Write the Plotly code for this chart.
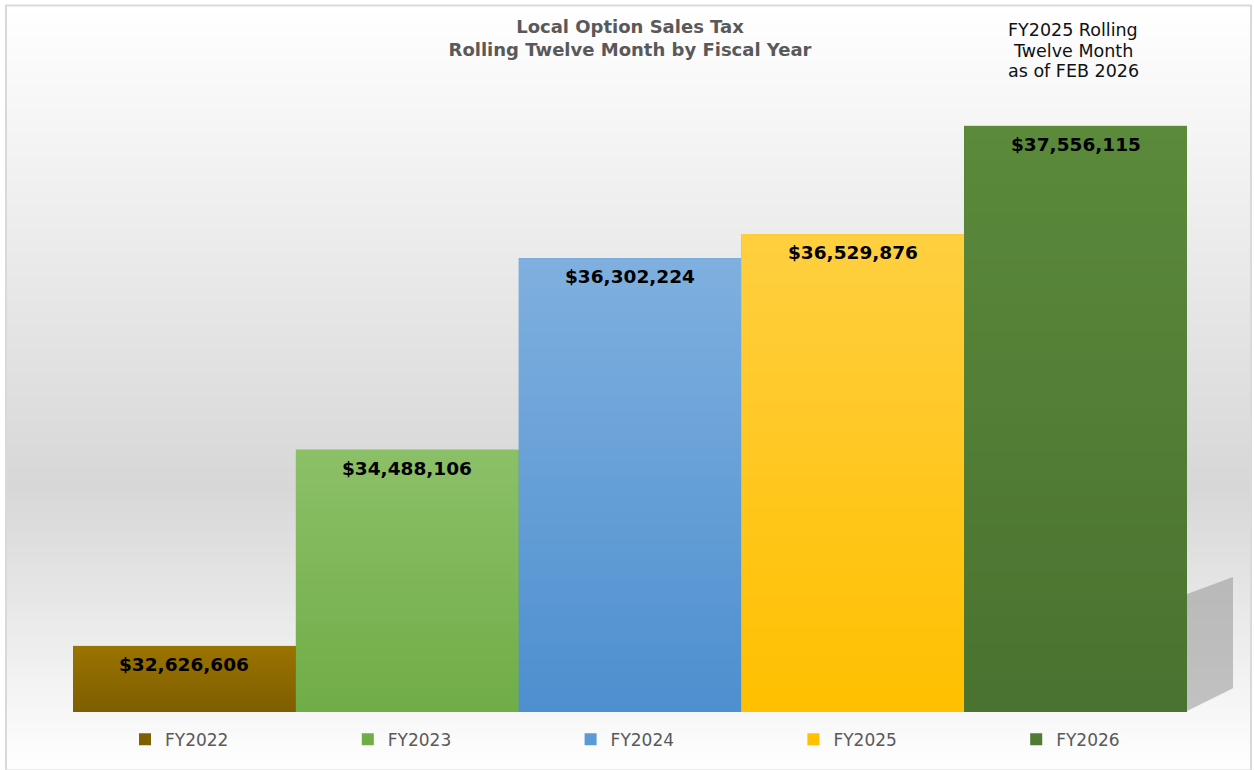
import base64
import struct
import zlib

import plotly.graph_objects as go

# ---------------- data ----------------
fiscal_years = ["FY2022", "FY2023", "FY2024", "FY2025", "FY2026"]
sales_tax = [32626606, 34488106, 36302224, 36529876, 37556115]
legend_colors = ["#7F6000", "#70AD47", "#5B9BD5", "#FFC000", "#507B33"]
grad_top = ["#9B7300", "#8CC068", "#7FB0DF", "#FFCF40", "#5B8A3B"]
grad_bottom = ["#7E5E00", "#70AD47", "#4E8FCF", "#FFC000", "#4A7230"]
y_min, y_max = 32000000, 38000000

title_text = "Local Option Sales Tax<br>Rolling Twelve Month by Fiscal Year"
note_lines = ["FY2025 Rolling", "Twelve Month", "as of FEB 2026"]

# ---------------- layout geometry ----------------
W, H = 1254, 770
ML, MR, MT, MB = 73, 67, 79, 53
PW, PH = W - ML - MR, H - MT - MB


def px_x(x):
    return (x - ML) / PW


def px_y(y):
    return (H - MB - y) / PH


def hex_rgb(h):
    h = h.lstrip("#")
    return tuple(int(h[i:i + 2], 16) for i in (0, 2, 4))


def png_uri(rows):
    w = 2
    raw = b"".join(b"\x00" + bytes(c) * w for c in rows)

    def chunk(t, d):
        return struct.pack(">I", len(d)) + t + d + struct.pack(">I", zlib.crc32(t + d) & 0xFFFFFFFF)

    png = (b"\x89PNG\r\n\x1a\n"
           + chunk(b"IHDR", struct.pack(">IIBBBBB", w, len(rows), 8, 2, 0, 0, 0))
           + chunk(b"IDAT", zlib.compress(raw))
           + chunk(b"IEND", b""))
    return "data:image/png;base64," + base64.b64encode(png).decode()


def vgrad(stops, n=128):
    rows = []
    for k in range(n):
        t = k / (n - 1)
        for (t0, c0), (t1, c1) in zip(stops[:-1], stops[1:]):
            if t0 <= t <= t1:
                f = 0 if t1 == t0 else (t - t0) / (t1 - t0)
                rows.append(tuple(int(round(a + (b - a) * f)) for a, b in zip(c0, c1)))
                break
    return rows


FONT = "DejaVu Sans, Verdana, sans-serif"

fig = go.Figure()

for i, (name, val, col) in enumerate(zip(fiscal_years, sales_tax, legend_colors)):
    fig.add_trace(go.Bar(
        x=[i], y=[val], name=name, width=1,
        marker=dict(color=col, line=dict(width=0)),
        hoverinfo="name+y",
    ))

images = []
bx0, bx1, by0, by1 = 6, 1251, 5, 776
images.append(dict(
    source=png_uri(vgrad([(0, (255, 255, 255)), (0.63, (215, 215, 215)), (1, (255, 255, 255))], 256)),
    xref="paper", yref="paper", x=px_x(bx0), y=px_y(by0),
    sizex=px_x(bx1) - px_x(bx0), sizey=px_y(by0) - px_y(by1),
    xanchor="left", yanchor="top", sizing="stretch", layer="below",
))
for i, val in enumerate(sales_tax):
    images.append(dict(
        source=png_uri(vgrad([(0, hex_rgb(grad_top[i])), (1, hex_rgb(grad_bottom[i]))], 64)),
        xref="x", yref="y", x=i - 0.5, y=val, sizex=1, sizey=val - y_min,
        xanchor="left", yanchor="top", sizing="stretch", layer="above",
    ))

annotations = []
for i, val in enumerate(sales_tax):
    annotations.append(dict(
        x=i, y=val, xref="x", yref="y", text=f"<b>${val:,.0f}</b>",
        showarrow=False, yanchor="top", yshift=-6,
        font=dict(family=FONT, size=18.5, color="#000000"),
    ))
for line, yc in zip(note_lines, [30, 50.5, 71]):
    annotations.append(dict(
        x=px_x(1073), y=px_y(yc), xref="paper", yref="paper", text=line,
        showarrow=False, xanchor="center", yanchor="middle",
        font=dict(family=FONT, size=17.5, color="#111111"),
    ))

shapes = [
    dict(type="path", xref="paper", yref="paper",
         path=(f"M{px_x(1187)},{px_y(598)} L{px_x(1233)},{px_y(581)} "
               f"L{px_x(1233)},{px_y(693)} L{px_x(1187)},{px_y(716)} Z"),
         fillcolor="rgba(150,150,150,0.55)", line=dict(width=0), layer="below"),
    dict(type="rect", xref="paper", yref="paper",
         x0=px_x(bx0), x1=px_x(bx1), y0=px_y(by1), y1=px_y(by0),
         line=dict(color="#D9D9D9", width=2), fillcolor="rgba(0,0,0,0)", layer="above"),
]

fig.update_layout(
    width=W, height=H, autosize=False,
    margin=dict(l=ML, r=MR, t=MT, b=MB, pad=0),
    paper_bgcolor="#FFFFFF", plot_bgcolor="rgba(0,0,0,0)",
    barmode="overlay", bargap=0,
    title=dict(text=f"<b>{title_text}</b>", x=0.5, xref="paper", xanchor="center",
               y=1 - 33 / H, yanchor="middle",
               font=dict(family=FONT, size=18, color="#595959")),
    xaxis=dict(range=[-0.5, 4.5], visible=False, fixedrange=True),
    yaxis=dict(range=[y_min, y_max], visible=False, fixedrange=True),
    showlegend=True,
    legend=dict(orientation="h", x=px_x(125), xanchor="left", y=px_y(745), yanchor="middle",
                entrywidth=PW / 5 - 45, entrywidthmode="pixels", bgcolor="rgba(0,0,0,0)",
                font=dict(family=FONT, size=17, color="#595959"),
                itemclick=False, itemdoubleclick=False),
    images=images, annotations=annotations, shapes=shapes,
)

fig.write_html("out.html",
               config={"responsive": False, "displayModeBar": False},
               post_script="document.body.style.margin='0';document.body.style.overflow='hidden';")
